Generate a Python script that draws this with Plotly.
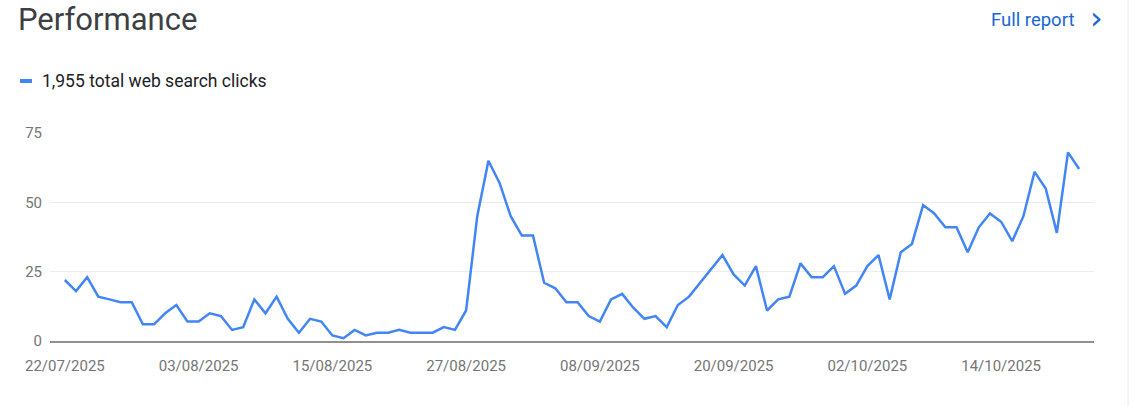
import plotly.graph_objects as go
import pandas as pd

# daily web search clicks, 22/07/2025 .. 21/10/2025
start_date = "2025-07-22"
clicks = [
    22, 18, 23, 16, 15, 14, 14, 6, 6, 10, 13, 7, 7, 10, 9, 4, 5, 15, 10, 16, 8, 3,
    8, 7, 2, 1, 4, 2, 3, 3, 4, 3, 3, 3, 5, 4, 11, 45, 65, 57, 45, 38, 38, 21, 19, 14, 14,
    9, 7, 15, 17, 12, 8, 9, 5, 13, 16, 21, 26, 31, 24, 20, 27, 11, 15, 16, 28, 23, 23, 27, 17, 20,
    27, 31, 15, 32, 35, 49, 46, 41, 41, 32, 41, 46, 43, 36, 45, 61, 55, 39, 68, 62,
]
y_ticks = [0, 25, 50, 75]
tick_step_days = 12

dates = pd.date_range(start_date, periods=len(clicks), freq="D")
x_ticks = dates[::tick_step_days]

W, H = 1130, 406
L, R, T, B = 50, 36, 133, 65
pw, ph = W - L - R, H - T - B

def px(x):
    return (x - L) / pw

def py(y):
    return (H - B - y) / ph

pad = pd.Timedelta(hours=32)

fig = go.Figure()

fig.add_trace(go.Scatter(
    x=dates,
    y=clicks,
    mode="lines",
    line=dict(color="#4285f4", width=2.5),
    hoverinfo="x+y",
    showlegend=False,
))

# titulo e legenda
fig.add_annotation(
    text="Performance", xref="paper", yref="paper",
    x=px(16), y=py(20), xanchor="left", yanchor="middle",
    showarrow=False, font=dict(family="Roboto", size=31, color="#3c4043"),
)
fig.add_annotation(
    text="Full report", xref="paper", yref="paper",
    x=px(1076), y=py(20), xanchor="right", yanchor="middle",
    showarrow=False, font=dict(family="Roboto", size=18.5, color="#1967d2"),
)
fig.add_annotation(
    text="\u203a", xref="paper", yref="paper",
    x=px(1096), y=py(18), xanchor="center", yanchor="middle",
    showarrow=False, font=dict(family="DejaVu Sans", size=32, color="#1967d2"),
)
fig.add_annotation(
    text=f"{sum(clicks):,} total web search clicks", xref="paper", yref="paper",
    x=px(40), y=py(81), xanchor="left", yanchor="middle",
    showarrow=False, font=dict(family="Roboto", size=17.5, color="#202124"),
)
fig.add_shape(
    type="line", xref="paper", yref="paper",
    x0=px(20), x1=px(32), y0=py(81), y1=py(81),
    line=dict(color="#4285f4", width=4),
)
# borda direita do cartao
fig.add_shape(
    type="line", xref="paper", yref="paper",
    x0=px(1128), x1=px(1128), y0=py(0), y1=py(H),
    line=dict(color="#e8eaed", width=1),
)

fig.update_layout(
    width=W, height=H,
    margin=dict(l=L, r=R, t=T, b=B),
    paper_bgcolor="white",
    plot_bgcolor="white",
    font=dict(family="Roboto"),
    xaxis=dict(
        range=[dates[0] - pad, dates[-1] + pad],
        tickvals=x_ticks,
        tickformat="%d/%m/%Y",
        showgrid=False,
        showline=True,
        linecolor="#909090",
        linewidth=2,
        ticks="",
        ticklabelstandoff=10,
        tickfont=dict(size=15, color="#757575"),
        fixedrange=True,
    ),
    yaxis=dict(
        range=[0, 75],
        tickvals=y_ticks,
        showgrid=True,
        gridcolor="#ececec",
        gridwidth=1,
        zeroline=False,
        ticks="",
        ticklabelstandoff=7,
        tickfont=dict(size=15, color="#757575"),
        fixedrange=True,
    ),
)

# sem margem do body, para a figura ocupar a janela inteira
fig.write_html(
    "out.html",
    config={"displayModeBar": False},
    post_script="document.body.style.margin='0';",
)
